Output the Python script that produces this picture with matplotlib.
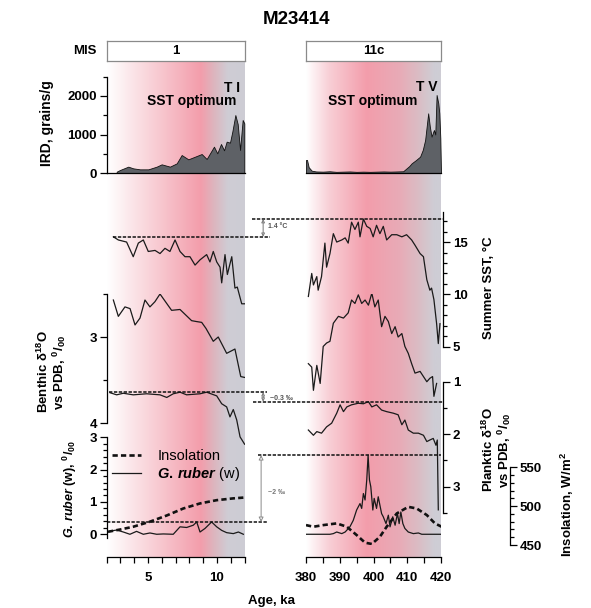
import numpy as np
import matplotlib
matplotlib.use("Agg")
import matplotlib.pyplot as plt
from matplotlib.colors import LinearSegmentedColormap
from matplotlib.ticker import MultipleLocator

# ---- MIS 1 (Holocene), age in ka
ird_h_age = [2.73, 2.97, 3.57, 3.93, 4.42, 5.02, 5.63, 5.99, 6.59, 7.08, 7.44, 7.92, 8.41, 8.89,
             9.25, 9.78, 10.02, 10.29, 10.51, 10.70, 10.94, 11.11, 11.33, 11.50, 11.67, 11.86, 11.98]
ird_h = [34, 78, 165, 121, 95, 95, 165, 225, 165, 250, 467, 355, 424, 493,
         363, 684, 511, 753, 589, 814, 788, 1074, 1506, 1272, 597, 1377, 1290]

sst_h_age = [2.49, 2.85, 3.45, 3.93, 4.30, 4.66, 5.02, 5.51, 5.87, 6.23, 6.59, 6.96, 7.32, 7.68, 8.04,
             8.41, 8.77, 9.25, 9.49, 9.73, 9.98, 10.22, 10.34, 10.58, 10.75, 11.07, 11.30, 11.47, 11.79, 12.0]
sst_h = [15.5, 15.2, 15.0, 13.6, 14.9, 15.2, 14.1, 14.2, 13.9, 14.4, 14.1, 15.2, 14.1, 13.6, 13.6,
         12.8, 13.3, 13.8, 13.1, 14.1, 13.1, 12.6, 11.1, 13.8, 11.9, 13.6, 10.6, 10.7, 9.1, 9.1]

ben_h_age = [2.49, 2.85, 3.33, 3.70, 4.06, 4.42, 4.78, 5.14, 5.50, 5.87, 6.71, 7.32, 8.16, 8.50, 8.89,
             9.20, 9.73, 10.09, 10.70, 11.30, 11.72, 12.0]
ben_h = [2.57, 2.76, 2.65, 2.67, 2.86, 2.78, 2.57, 2.65, 2.59, 2.50, 2.69, 2.68, 2.81, 2.82, 2.83,
         2.90, 3.05, 3.00, 3.19, 3.14, 3.46, 3.47]

pl_h_age = [2.25, 2.73, 3.21, 3.93, 4.90, 5.87, 6.36, 6.83, 7.32, 7.80, 8.77, 9.25, 9.98, 10.34,
            10.70, 10.94, 11.18, 11.43, 11.67, 12.0]
pl_h = [1.21, 1.25, 1.22, 1.25, 1.23, 1.25, 1.30, 1.23, 1.20, 1.25, 1.23, 1.20, 1.27, 1.42,
        1.48, 1.67, 1.53, 1.73, 2.05, 2.19]

rub_h_age = [2.25, 2.73, 3.21, 3.69, 4.17, 4.66, 5.14, 5.63, 6.11, 6.83, 7.32, 7.80, 8.28, 8.53,
             8.77, 9.13, 9.61, 9.98, 10.34, 10.70, 11.18, 11.55, 11.91]
rub_h = [0.10, 0.13, 0.07, 0.0, 0.09, 0.0, 0.04, 0.0, 0.01, 0.0, 0.23, 0.21, 0.28, 0.38,
         0.07, 0.18, 0.38, 0.23, 0.12, 0.05, 0.02, 0.07, 0.0]

ins_h_age = [2.1, 3.0, 3.93, 5.14, 6.36, 7.56, 8.77, 9.98, 11.18, 11.91]
ins_h = [467, 470, 473.5, 480, 488, 497, 503.5, 507.7, 510, 511]

# ---- MIS 11c, age in ka
ird_11_age = [380.0, 380.3, 380.8, 381.7, 383, 385, 387, 389, 391, 393, 395, 397, 399, 401, 403, 405,
              407, 408.8, 409.8, 410.6, 411.3, 412.5, 413.8, 414.6, 415.3, 416.2, 416.7, 417.2, 417.9,
              418.3, 418.7, 419.2, 419.5, 419.8, 420.0]
ird_11 = [338, 340, 150, 60, 40, 35, 45, 30, 35, 40, 30, 35, 30, 35, 40, 35,
          40, 45, 121, 180, 251, 330, 424, 600, 857, 1550, 1200, 944, 1117,
          1000, 2026, 1810, 1550, 900, 0]

sst_11_age = [380.7, 381.7, 382.2, 383.2, 383.6, 384.6, 385.6, 386.1, 387.1, 388.1, 389.1, 390.6, 391.6,
              392.5, 393.5, 394.5, 395.5, 396.0, 397.0, 398.0, 399.0, 399.9, 400.9, 401.9, 402.9, 403.9,
              405.4, 406.9, 408.4, 409.8, 411.3, 412.3, 413.8, 414.8, 415.8, 416.7, 417.2, 417.9, 418.7,
              419.2, 419.7]
sst_11 = [9.8, 12.0, 10.9, 11.7, 10.4, 11.7, 14.9, 12.6, 13.9, 15.8, 15.0, 15.2, 15.4,
          14.9, 16.9, 16.2, 16.9, 15.5, 17.2, 16.5, 16.3, 15.5, 16.6, 15.8, 16.5, 15.2,
          15.7, 15.7, 15.5, 15.7, 15.2, 14.7, 13.9, 13.6, 11.4, 10.4, 10.6, 9.5, 7.2,
          5.3, 7.2]

ben_11_age = [380.7, 381.7, 382.2, 383.2, 384.2, 385.1, 386.1, 387.1, 388.1, 389.6, 391.1, 392.5, 393.5,
              394.5, 395.5, 396.5, 397.5, 398.5, 399.5, 400.4, 401.4, 402.4, 403.4, 404.4, 405.4, 406.4,
              407.3, 408.4, 409.3, 410.3, 411.3, 412.3, 413.8, 414.8, 415.8, 416.7, 417.5, 417.9, 418.7]
ben_11 = [3.31, 3.35, 3.62, 3.33, 3.54, 3.11, 3.07, 3.05, 2.84, 2.76, 2.78, 2.72, 2.57,
          2.61, 2.51, 2.61, 2.57, 2.63, 2.49, 2.65, 2.57, 2.88, 2.76, 2.82, 2.96, 2.88,
          3.00, 2.96, 3.11, 3.19, 3.31, 3.42, 3.40, 3.46, 3.52, 3.48, 3.46, 3.69, 3.54]

pl_11_age = [380.7, 382.2, 383.2, 384.6, 386.1, 387.6, 389.1, 390.1, 391.1, 392.1, 393.5, 395.5, 397.0,
             398.5, 399.5, 400.9, 402.4, 403.9, 405.9, 407.3, 408.4, 409.3, 410.3, 411.8, 413.3, 414.8,
             415.8, 416.7, 417.7, 418.5, 418.9, 419.2]
pl_11 = [1.92, 2.02, 1.95, 1.98, 1.86, 1.79, 1.60, 1.44, 1.57, 1.48, 1.44, 1.41, 1.42,
         1.38, 1.48, 1.44, 1.54, 1.57, 1.60, 1.63, 1.82, 1.73, 1.92, 1.98, 1.98, 2.02,
         2.14, 2.11, 2.08, 2.21, 2.11, 3.44]

rub_11_age = [380.0, 387.1, 388.1, 389.1, 390.6, 391.6, 393.0, 394.0, 395.0, 396.0, 396.5, 397.0, 397.5,
              398.0, 398.4, 398.8, 399.2, 399.8, 400.2, 400.9, 401.4, 402.4, 402.9, 403.7, 404.4, 404.9,
              405.7, 406.4, 407.1, 407.6, 408.1, 408.7, 409.3, 410.3, 411.8, 413.3, 414.3, 420.0]
rub_11 = [0, 0, 0.02, 0.07, 0.02, 0.07, 0.23, 0.43, 0.75, 0.95, 0.80, 1.26, 1.06,
          1.68, 2.45, 1.68, 1.47, 0.75, 1.11, 0.80, 1.16, 0.64, 0.54, 0.33, 0.59, 0.23,
          0.54, 0.28, 0.64, 0.33, 0.69, 0.33, 0.18, 0.07, 0.02, 0.04, 0.0, 0.0]

ins_11_age = [380.0, 382.2, 385.1, 389.1, 392.1, 395.0, 397.5, 399.5, 401.9, 403.9, 406.9, 410.3,
              412.8, 415.8, 418.2, 420.2]
ins_11 = [475.6, 473.5, 475.6, 477.8, 473.5, 462.8, 453.0, 451.3, 460.6, 473.5, 490.6, 499.1,
          497.0, 488.5, 477.8, 473.5]

mis_labels = ["1", "11c"]

W, H = 591, 608
plt.rcParams['font.family'] = ['Liberation Sans', 'DejaVu Sans']
plt.rcParams['font.weight'] = 'bold'
plt.rcParams['mathtext.fontset'] = 'custom'
plt.rcParams['mathtext.rm'] = 'Liberation Sans:bold'
plt.rcParams['mathtext.it'] = 'Liberation Sans:bold:italic'
plt.rcParams['mathtext.bf'] = 'Liberation Sans:bold'
plt.rcParams['axes.linewidth'] = 0.9

fig = plt.figure(figsize=(W / 100, H / 100), dpi=100)

def fx(px):
    return px / W

def fy(py):
    return 1 - py / H

def add_ax(xpx, ypx, xlim, ylim):
    ax = fig.add_axes([fx(xpx[0]), fy(ypx[1]), (xpx[1] - xpx[0]) / W, (ypx[1] - ypx[0]) / H])
    ax.set_xlim(xlim)
    ax.set_ylim(ylim)
    ax.patch.set_visible(False)
    for s in ax.spines.values():
        s.set_visible(False)
    ax.set_xticks([])
    ax.set_yticks([])
    return ax

def left_axis(ax, major, minor):
    ax.spines['left'].set_visible(True)
    ax.yaxis.set_major_locator(MultipleLocator(major))
    ax.yaxis.set_minor_locator(MultipleLocator(minor))
    ax.tick_params(axis='y', which='both', left=True, right=False, labelleft=True,
                   direction='out', labelsize=9.5, pad=2, width=0.9)
    ax.tick_params(axis='y', which='major', length=5)
    ax.tick_params(axis='y', which='minor', length=3)

def right_axis(ax, major, minor, offset):
    ax.spines['right'].set_visible(True)
    ax.spines['right'].set_position(('axes', offset))
    ax.yaxis.set_major_locator(MultipleLocator(major))
    ax.yaxis.set_minor_locator(MultipleLocator(minor))
    ax.tick_params(axis='y', which='both', left=False, right=True, labelleft=False, labelright=True,
                   direction='out', labelsize=9.5, pad=2, width=0.9)
    ax.tick_params(axis='y', which='major', length=5)
    ax.tick_params(axis='y', which='minor', length=3)

XL = (106.6, 244.6)
XR = (306, 441)
XLIM_L = (2, 12)
XLIM_R = (380, 420)

# background gradients (warm optimum -> termination)
cm_l = LinearSegmentedColormap.from_list('l', [(0, '#ffffff'), (0.3, '#f9d4da'), (0.68, '#f39dab'),
                                               (0.78, '#dcb6bf'), (0.88, '#cfcdd5'), (1, '#cdccd4')])
cm_r = LinearSegmentedColormap.from_list('r', [(0, '#ffffff'), (0.17, '#f8cfd6'), (0.45, '#f39dab'),
                                               (0.7, '#e8abb7'), (0.85, '#d9bfc6'), (0.95, '#cfcdd5'),
                                               (1, '#cecdd5')])
for xpx, xlim, cm, maj, mnr in [(XL, XLIM_L, cm_l, 5, 1), (XR, XLIM_R, cm_r, 10, 5)]:
    bg = add_ax(xpx, (61, 557), xlim, (0, 1))
    bg.imshow(np.linspace(0, 1, 256)[None, :], cmap=cm, aspect='auto',
              extent=(xlim[0], xlim[1], 0, 1), zorder=0)
    bg.set_xlim(xlim)
    bg.set_ylim(0, 1)
    bg.spines['bottom'].set_visible(True)
    bg.xaxis.set_major_locator(MultipleLocator(maj))
    bg.xaxis.set_minor_locator(MultipleLocator(mnr))
    bg.tick_params(axis='x', which='both', direction='out', length=4, width=0.9,
                   labelsize=9.5, pad=7)

# MIS boxes
for xpx, lab in zip([XL, XR], mis_labels):
    mb = add_ax(xpx, (41, 61), (0, 1), (0, 1))
    for s in mb.spines.values():
        s.set_visible(True)
        s.set_color('#8a8a8a')
    mb.patch.set_visible(True)
    mb.patch.set_facecolor('white')
    mb.text(0.5, 0.5, lab, ha='center', va='center', fontsize=9.5, fontweight='bold')

line_kw = dict(color='#1a1a1a', lw=0.9)

# IRD
ax = add_ax(XL, (76.75, 173), XLIM_L, (0, 2500))
ax.fill_between(ird_h_age, ird_h, color='#5e6166', edgecolor='#111111', lw=0.6)
ax.spines['bottom'].set_visible(True)
left_axis(ax, 1000, 500)
ax = add_ax(XR, (76.75, 173), XLIM_R, (0, 2500))
ax.fill_between(ird_11_age, ird_11, color='#5e6166', edgecolor='#111111', lw=0.6)
ax.spines['bottom'].set_visible(True)

ref_kw = dict(color='#111111', lw=1.1, ls=(0, (2.2, 1)), clip_on=False)
arr_kw = dict(arrowstyle='<|-|>', fc='white', ec='#777777', lw=0.7, mutation_scale=5,
              shrinkA=0, shrinkB=0)

# SST
axL = add_ax(XL, (211.7, 346.7), XLIM_L, (5, 17.9))
axL.plot(sst_h_age, sst_h, **line_kw)
axR = add_ax(XR, (211.7, 346.7), XLIM_R, (5, 17.9))
axR.plot(sst_11_age, sst_11, **line_kw)
right_axis(axR, 5, 1, 1.015)
axL.plot([sst_h_age[0] - 0.05, 13.85], [max(sst_h)] * 2, **ref_kw)
axR.plot([364.0, 420.6], [max(sst_11)] * 2, **ref_kw)
axR.annotate('', xy=(367.3, max(sst_11)), xytext=(367.3, max(sst_h)), arrowprops=arr_kw,
             annotation_clip=False)

# Benthic d18O
axL = add_ax(XL, (294, 423), XLIM_L, (4, 2.5))
axL.plot(ben_h_age, ben_h, **line_kw)
left_axis(axL, 1, 0.5)
axR = add_ax(XR, (294, 423), XLIM_R, (4, 2.5))
axR.plot(ben_11_age, ben_11, **line_kw)

# Planktic d18O
axL = add_ax(XL, (381.7, 513), XLIM_L, (3.5, 1.0))
axL.plot(pl_h_age, pl_h, **line_kw)
axR = add_ax(XR, (381.7, 513), XLIM_R, (3.5, 1.0))
axR.plot(pl_11_age, pl_11, **line_kw)
right_axis(axR, 1, 0.5, 1.015)
axL.plot([2.2, 13.63], [min(pl_h)] * 2, **ref_kw)
axR.plot([364.3, 420.6], [min(pl_11)] * 2, **ref_kw)
axR.annotate('', xy=(367.3, min(pl_11)), xytext=(367.3, min(pl_h)), arrowprops=arr_kw,
             annotation_clip=False)

# G. ruber (w)
axRubL = add_ax(XL, (437.3, 537.5), XLIM_L, (-0.1, 3))
rub_line, = axRubL.plot(rub_h_age, rub_h, **line_kw)
left_axis(axRubL, 1, 0.2)
axRubR = add_ax(XR, (437.3, 537.5), XLIM_R, (-0.1, 3))
axRubR.plot(rub_11_age, rub_11, **line_kw)
axRubL.plot([2.0, 13.7], [max(rub_h)] * 2, **ref_kw)
axRubR.plot([365.8, 420], [max(rub_11)] * 2, **ref_kw)
axRubR.annotate('', xy=(366.7, max(rub_11)), xytext=(366.7, max(rub_h)),
                arrowprops=dict(arr_kw, ec='#8a8a8a', mutation_scale=7), annotation_clip=False)

# Insolation
ins_kw = dict(color='#111111', lw=1.9, ls=(0, (2.0, 1.2)))
axL = add_ax(XL, (467.3, 545), XLIM_L, (450, 550))
ins_line, = axL.plot(ins_h_age, ins_h, **ins_kw)
axR = add_ax(XR, (467.3, 545), XLIM_R, (450, 550))
axR.plot(ins_11_age, ins_11, **ins_kw)
right_axis(axR, 50, 10, 1.511)

axRubL.legend([ins_line, rub_line], ['Insolation', r'$\it{G.\,ruber}$ (w)'],
              loc='upper left', bbox_to_anchor=(fx(112), fy(449)), bbox_transform=fig.transFigure,
              frameon=False, prop={'size': 10.5, 'weight': 'normal'}, handlelength=2.0,
              handletextpad=1.1, labelspacing=0.15, borderaxespad=0, borderpad=0)

# texts
fig.text(fx(296), fy(20), 'M23414', ha='center', va='center', fontsize=13.5, fontweight='bold')
fig.text(fx(97), fy(51), 'MIS', ha='right', va='center', fontsize=9.5)
fig.text(fx(240), fy(88), 'T I', ha='right', va='center', fontsize=10)
fig.text(fx(192), fy(101), 'SST optimum', ha='center', va='center', fontsize=10)
fig.text(fx(437), fy(87), 'T V', ha='right', va='center', fontsize=10)
fig.text(fx(373), fy(101), 'SST optimum', ha='center', va='center', fontsize=10)

fig.text(fx(47), fy(123), 'IRD, grains/g', rotation=90, ha='center', va='center', fontsize=10)
fig.text(fx(52), fy(372), 'Benthic \u03b4$^{18}$O\nvs PDB, $^{0}/_{00}$', rotation=90,
         ha='center', va='center', fontsize=9.5, multialignment='center', linespacing=1.0)
fig.text(fx(70), fy(489), r'$\it{G.\,ruber}$ (w), $^{0}/_{00}$', rotation=90,
         ha='center', va='center', fontsize=9)
fig.text(fx(489), fy(288), 'Summer SST, \u00b0C', rotation=90, ha='center', va='center', fontsize=9.5)
fig.text(fx(497), fy(450), 'Planktic \u03b4$^{18}$O\nvs PDB, $^{0}/_{00}$', rotation=90,
         ha='center', va='center', fontsize=9.5, multialignment='center', linespacing=1.0)
fig.text(fx(567), fy(505), 'Insolation, W/m$^{2}$', rotation=90, ha='center', va='center',
         fontsize=9.5)
fig.text(fx(272), fy(601), 'Age, ka', ha='center', va='center', fontsize=9.5)

fig.text(fx(268), fy(227), '1.4 \u00b0C', ha='left', va='center', fontsize=5, color='#555555')
fig.text(fx(270), fy(398), '~0.3 \u2030', ha='left', va='center', fontsize=5, color='#555555')
fig.text(fx(268), fy(493), '~2 \u2030', ha='left', va='center', fontsize=5, color='#777777')

fig.savefig('out.png', dpi=100)
